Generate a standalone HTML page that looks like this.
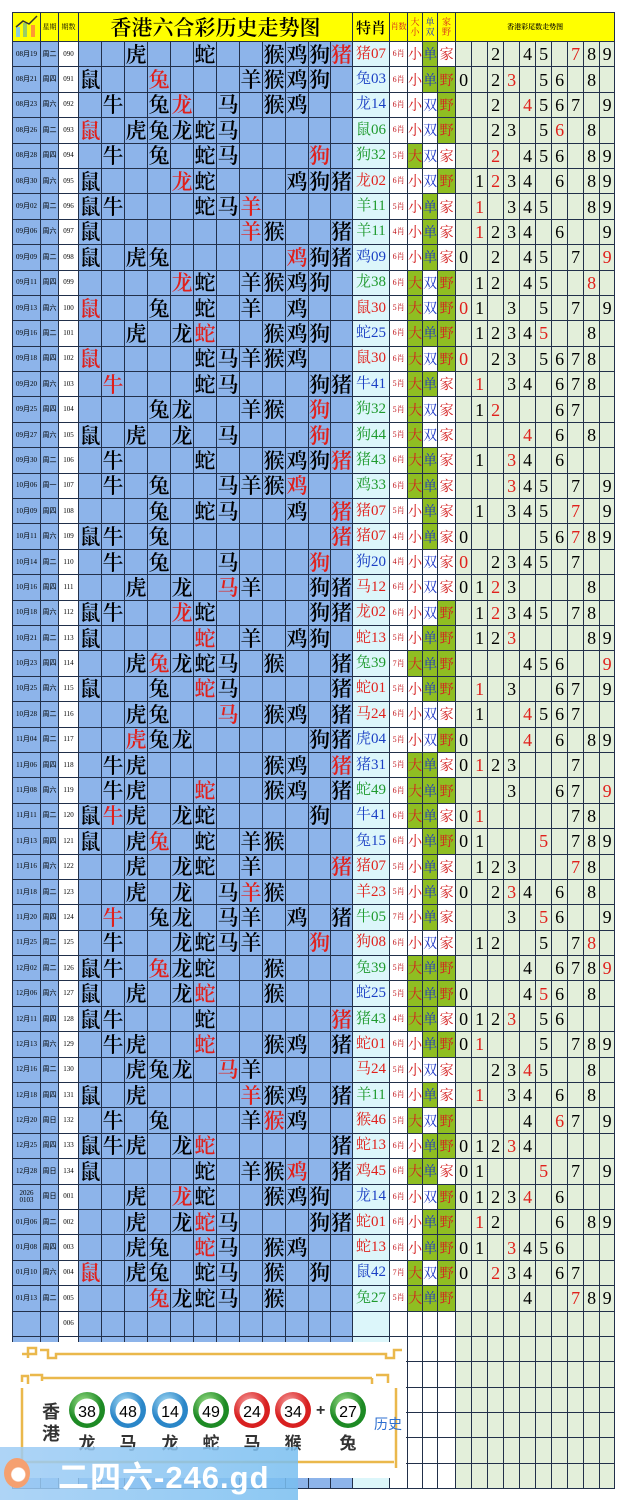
<!DOCTYPE html>
<html><head><meta charset="utf-8"><style>
body{margin:0;width:622px;height:1500px;background:#fff;position:relative;overflow:hidden;font-family:"Liberation Serif","Noto Serif CJK SC",serif}
table{position:absolute;left:12px;top:12px;border-collapse:collapse;table-layout:fixed;width:602px}
td{border:1px solid #22304a;padding:0;text-align:center;vertical-align:middle;height:24.4px;overflow:hidden;white-space:nowrap;line-height:1}
tr.h td{height:27px;background:#ffff00}
.cz{background:#8db4ea}.cd{background:#8db4ea}.cn{background:#fff}.ct{background:#dcf6fa}.cw{background:#fff}.cg{background:#e3efda}
tr td:nth-child(n+4):nth-child(-n+15){font-size:21px;font-family:"Noto Serif CJK SC",serif;font-weight:600}
tr td:nth-child(1),tr td:nth-child(2),tr td:nth-child(3){font-size:7px;font-family:"Liberation Serif","Noto Sans CJK SC",serif}
tr td:nth-child(16){font-size:15px;font-family:"Liberation Serif","Noto Serif CJK SC",serif}
tr td:nth-child(17){font-size:8px;color:#c0141a}
tr td:nth-child(18),tr td:nth-child(19),tr td:nth-child(20){font-size:14px;font-family:"Noto Serif CJK SC",serif}
tr td:nth-child(18),tr td:nth-child(20){color:#d42020}
tr td:nth-child(19){color:#1a35c8}
tr td:nth-child(n+21){font-size:18px}
.G{background:#8fbe22!important}
.r{color:#e0201b!important}.b{color:#1a3fc4}.g{color:#1f9a2e}
tr.h td{font-family:"Noto Serif CJK SC",serif;font-weight:bold}
</style></head><body>
<table>
<colgroup><col style="width:28px" class="cd"><col style="width:18px" class="cd"><col style="width:20px" class="cn">
<col style="width:23px" class="cz"><col style="width:23px" class="cz"><col style="width:23px" class="cz"><col style="width:23px" class="cz"><col style="width:23px" class="cz"><col style="width:23px" class="cz"><col style="width:23px" class="cz"><col style="width:23px" class="cz"><col style="width:23px" class="cz"><col style="width:23px" class="cz"><col style="width:22px" class="cz"><col style="width:22px" class="cz">
<col style="width:37px" class="ct"><col style="width:18px" class="cw"><col style="width:15px" class="cw"><col style="width:15px" class="cw"><col style="width:18px" class="cw">
<col style="width:16px" class="cg"><col style="width:16px" class="cg"><col style="width:16px" class="cg"><col style="width:16px" class="cg"><col style="width:16px" class="cg"><col style="width:16px" class="cg"><col style="width:16px" class="cg"><col style="width:16px" class="cg"><col style="width:16px" class="cg"><col style="width:15px" class="cg"></colgroup>
<tr class="h"><td><svg width="26" height="26" viewBox="0 0 26 26"><rect x="2" y="14" width="4" height="10" fill="#8cd"/><rect x="9" y="10" width="4" height="14" fill="#9c6"/><rect x="17" y="12" width="4" height="12" fill="#f93"/><polyline points="2,14 9,8 15,11 23,3" fill="none" stroke="#333" stroke-width="1.5"/></svg><td style="font-size:7px;font-weight:normal">星期<td style="font-size:7px;font-weight:normal">期数<td colspan="12" style="font-size:21px">香港六合彩历史走势图<td style="font-size:15px">特肖<td style="font-size:8px;color:#d42020;font-weight:normal">肖数<td style="font-size:9px;line-height:1.1;color:#d42020;font-weight:normal">大<br>小<td style="font-size:9px;line-height:1.1;color:#1a35c8;font-weight:normal">单<br>双<td style="font-size:9px;line-height:1.1;color:#d42020;font-weight:normal">家<br>野<td colspan="10" style="font-size:7px">香港彩尾数走势图
<tr><td>08月19<td>周二<td>090<td><td><td>虎<td><td><td>蛇<td><td><td>猴<td>鸡<td>狗<td class=r>猪<td class=r>猪07<td>6肖<td>小<td class=G>单<td>家<td><td><td>2<td><td>4<td>5<td><td class=r>7<td>8<td>9
<tr><td>08月21<td>周四<td>091<td>鼠<td><td><td class=r>兔<td><td><td><td>羊<td>猴<td>鸡<td>狗<td><td class=b>兔03<td>6肖<td>小<td class=G>单<td class=G>野<td>0<td><td>2<td class=r>3<td><td>5<td>6<td><td>8<td>
<tr><td>08月23<td>周六<td>092<td><td>牛<td><td>兔<td class=r>龙<td><td>马<td><td>猴<td>鸡<td><td><td class=b>龙14<td>6肖<td>小<td>双<td class=G>野<td><td><td>2<td><td class=r>4<td>5<td>6<td>7<td><td>9
<tr><td>08月26<td>周二<td>093<td class=r>鼠<td><td>虎<td>兔<td>龙<td>蛇<td>马<td><td><td><td><td><td class=g>鼠06<td>6肖<td>小<td>双<td class=G>野<td><td><td>2<td>3<td><td>5<td class=r>6<td><td>8<td>
<tr><td>08月28<td>周四<td>094<td><td>牛<td><td>兔<td><td>蛇<td>马<td><td><td><td class=r>狗<td><td class=g>狗32<td>5肖<td class=G>大<td>双<td>家<td><td><td class=r>2<td><td>4<td>5<td>6<td><td>8<td>9
<tr><td>08月30<td>周六<td>095<td>鼠<td><td><td><td class=r>龙<td>蛇<td><td><td><td>鸡<td>狗<td>猪<td class=r>龙02<td>6肖<td>小<td>双<td class=G>野<td><td>1<td class=r>2<td>3<td>4<td><td>6<td><td>8<td>9
<tr><td>09月02<td>周二<td>096<td>鼠<td>牛<td><td><td><td>蛇<td>马<td class=r>羊<td><td><td><td><td class=g>羊11<td>5肖<td>小<td class=G>单<td>家<td><td class=r>1<td><td>3<td>4<td>5<td><td><td>8<td>9
<tr><td>09月06<td>周六<td>097<td>鼠<td><td><td><td><td><td><td class=r>羊<td>猴<td><td><td>猪<td class=g>羊11<td>4肖<td>小<td class=G>单<td>家<td><td class=r>1<td>2<td>3<td>4<td><td>6<td><td><td>9
<tr><td>09月09<td>周二<td>098<td>鼠<td><td>虎<td>兔<td><td><td><td><td><td class=r>鸡<td>狗<td>猪<td class=b>鸡09<td>6肖<td>小<td class=G>单<td>家<td>0<td><td>2<td><td>4<td>5<td><td>7<td><td class=r>9
<tr><td>09月11<td>周四<td>099<td><td><td><td><td class=r>龙<td>蛇<td><td>羊<td>猴<td>鸡<td>狗<td><td class=g>龙38<td>6肖<td class=G>大<td>双<td class=G>野<td><td>1<td>2<td><td>4<td>5<td><td><td class=r>8<td>
<tr><td>09月13<td>周六<td>100<td class=r>鼠<td><td><td>兔<td><td>蛇<td><td>羊<td><td>鸡<td><td><td class=r>鼠30<td>5肖<td class=G>大<td>双<td class=G>野<td class=r>0<td>1<td><td>3<td><td>5<td><td>7<td><td>9
<tr><td>09月16<td>周二<td>101<td><td><td>虎<td><td>龙<td class=r>蛇<td><td><td>猴<td>鸡<td>狗<td><td class=b>蛇25<td>6肖<td class=G>大<td class=G>单<td class=G>野<td><td>1<td>2<td>3<td>4<td class=r>5<td><td><td>8<td>
<tr><td>09月18<td>周四<td>102<td class=r>鼠<td><td><td><td><td>蛇<td>马<td>羊<td>猴<td>鸡<td><td><td class=r>鼠30<td>6肖<td class=G>大<td>双<td class=G>野<td class=r>0<td><td>2<td>3<td><td>5<td>6<td>7<td>8<td>
<tr><td>09月20<td>周六<td>103<td><td class=r>牛<td><td><td><td>蛇<td>马<td><td><td><td>狗<td>猪<td class=b>牛41<td>5肖<td class=G>大<td class=G>单<td>家<td><td class=r>1<td><td>3<td>4<td><td>6<td>7<td>8<td>
<tr><td>09月25<td>周四<td>104<td><td><td><td>兔<td>龙<td><td><td>羊<td>猴<td><td class=r>狗<td><td class=g>狗32<td>5肖<td class=G>大<td>双<td>家<td><td>1<td class=r>2<td><td><td><td>6<td>7<td><td>
<tr><td>09月27<td>周六<td>105<td>鼠<td><td>虎<td><td>龙<td><td>马<td><td><td><td class=r>狗<td><td class=g>狗44<td>5肖<td class=G>大<td>双<td>家<td><td><td><td><td class=r>4<td><td>6<td><td>8<td>
<tr><td>09月30<td>周二<td>106<td><td>牛<td><td><td><td>蛇<td><td><td>猴<td>鸡<td>狗<td class=r>猪<td class=g>猪43<td>6肖<td class=G>大<td class=G>单<td>家<td><td>1<td><td class=r>3<td>4<td><td>6<td><td><td>
<tr><td>10月06<td>周一<td>107<td><td>牛<td><td>兔<td><td><td>马<td>羊<td>猴<td class=r>鸡<td><td><td class=g>鸡33<td>6肖<td class=G>大<td class=G>单<td>家<td><td><td><td class=r>3<td>4<td>5<td><td>7<td><td>9
<tr><td>10月09<td>周四<td>108<td><td><td><td>兔<td><td>蛇<td>马<td><td><td>鸡<td><td class=r>猪<td class=r>猪07<td>5肖<td>小<td class=G>单<td>家<td><td>1<td><td>3<td>4<td>5<td><td class=r>7<td><td>9
<tr><td>10月11<td>周六<td>109<td>鼠<td>牛<td><td>兔<td><td><td><td><td><td><td><td class=r>猪<td class=r>猪07<td>4肖<td>小<td class=G>单<td>家<td>0<td><td><td><td><td>5<td>6<td class=r>7<td>8<td>9
<tr><td>10月14<td>周二<td>110<td><td>牛<td><td>兔<td><td><td>马<td><td><td><td class=r>狗<td><td class=b>狗20<td>4肖<td>小<td>双<td>家<td class=r>0<td><td>2<td>3<td>4<td>5<td><td>7<td><td>
<tr><td>10月16<td>周四<td>111<td><td><td>虎<td><td>龙<td><td class=r>马<td>羊<td><td><td>狗<td>猪<td class=r>马12<td>6肖<td>小<td>双<td>家<td>0<td>1<td class=r>2<td>3<td><td><td><td><td>8<td>
<tr><td>10月18<td>周六<td>112<td>鼠<td>牛<td><td><td class=r>龙<td>蛇<td><td><td><td><td>狗<td>猪<td class=r>龙02<td>6肖<td>小<td>双<td class=G>野<td><td>1<td class=r>2<td>3<td>4<td>5<td><td>7<td>8<td>
<tr><td>10月21<td>周二<td>113<td>鼠<td><td><td><td><td class=r>蛇<td><td>羊<td><td>鸡<td>狗<td><td class=r>蛇13<td>5肖<td>小<td class=G>单<td class=G>野<td><td>1<td>2<td class=r>3<td><td><td><td><td>8<td>9
<tr><td>10月23<td>周四<td>114<td><td><td>虎<td class=r>兔<td>龙<td>蛇<td>马<td><td>猴<td><td><td>猪<td class=g>兔39<td>7肖<td class=G>大<td class=G>单<td class=G>野<td><td><td><td><td>4<td>5<td>6<td><td><td class=r>9
<tr><td>10月25<td>周六<td>115<td>鼠<td><td><td>兔<td><td class=r>蛇<td>马<td><td><td><td><td>猪<td class=r>蛇01<td>5肖<td>小<td class=G>单<td class=G>野<td><td class=r>1<td><td>3<td><td><td>6<td>7<td><td>9
<tr><td>10月28<td>周二<td>116<td><td><td>虎<td>兔<td><td><td class=r>马<td><td>猴<td>鸡<td><td>猪<td class=r>马24<td>6肖<td>小<td>双<td>家<td><td>1<td><td><td class=r>4<td>5<td>6<td>7<td><td>
<tr><td>11月04<td>周二<td>117<td><td><td class=r>虎<td>兔<td>龙<td><td><td><td><td><td>狗<td>猪<td class=b>虎04<td>5肖<td>小<td>双<td class=G>野<td>0<td><td><td><td class=r>4<td><td>6<td><td>8<td>9
<tr><td>11月06<td>周四<td>118<td><td>牛<td>虎<td><td><td><td><td><td>猴<td>鸡<td><td class=r>猪<td class=b>猪31<td>5肖<td class=G>大<td class=G>单<td>家<td>0<td class=r>1<td>2<td>3<td><td><td><td>7<td><td>
<tr><td>11月08<td>周六<td>119<td><td>牛<td>虎<td><td><td class=r>蛇<td><td><td>猴<td>鸡<td><td>猪<td class=g>蛇49<td>6肖<td class=G>大<td class=G>单<td class=G>野<td><td><td><td>3<td><td><td>6<td>7<td><td class=r>9
<tr><td>11月11<td>周二<td>120<td>鼠<td class=r>牛<td>虎<td><td>龙<td>蛇<td><td><td><td><td>狗<td><td class=b>牛41<td>6肖<td class=G>大<td class=G>单<td>家<td>0<td class=r>1<td><td><td><td><td><td>7<td>8<td>
<tr><td>11月13<td>周四<td>121<td>鼠<td><td>虎<td class=r>兔<td><td>蛇<td><td>羊<td>猴<td><td><td><td class=b>兔15<td>6肖<td>小<td class=G>单<td class=G>野<td>0<td>1<td><td><td><td class=r>5<td><td>7<td>8<td>9
<tr><td>11月16<td>周六<td>122<td><td><td>虎<td><td>龙<td>蛇<td><td>羊<td><td><td><td class=r>猪<td class=r>猪07<td>5肖<td>小<td class=G>单<td>家<td><td>1<td>2<td>3<td><td><td><td class=r>7<td>8<td>
<tr><td>11月18<td>周二<td>123<td><td><td>虎<td><td>龙<td><td>马<td class=r>羊<td>猴<td><td><td><td class=r>羊23<td>5肖<td>小<td class=G>单<td>家<td>0<td><td>2<td class=r>3<td>4<td><td>6<td><td>8<td>
<tr><td>11月20<td>周四<td>124<td><td class=r>牛<td><td>兔<td>龙<td><td>马<td>羊<td><td>鸡<td><td>猪<td class=g>牛05<td>7肖<td>小<td class=G>单<td>家<td><td><td><td>3<td><td class=r>5<td>6<td><td><td>9
<tr><td>11月25<td>周二<td>125<td><td>牛<td><td><td>龙<td>蛇<td>马<td>羊<td><td><td class=r>狗<td><td class=r>狗08<td>6肖<td>小<td>双<td>家<td><td>1<td>2<td><td><td>5<td><td>7<td class=r>8<td>
<tr><td>12月02<td>周二<td>126<td>鼠<td>牛<td><td class=r>兔<td>龙<td>蛇<td><td><td>猴<td><td><td><td class=g>兔39<td>5肖<td class=G>大<td class=G>单<td class=G>野<td><td><td><td><td>4<td><td>6<td>7<td>8<td class=r>9
<tr><td>12月06<td>周六<td>127<td>鼠<td><td>虎<td><td>龙<td class=r>蛇<td><td><td>猴<td><td><td><td class=b>蛇25<td>5肖<td class=G>大<td class=G>单<td class=G>野<td>0<td><td><td><td>4<td class=r>5<td>6<td><td>8<td>
<tr><td>12月11<td>周四<td>128<td>鼠<td>牛<td><td><td><td>蛇<td><td><td><td><td><td class=r>猪<td class=g>猪43<td>4肖<td class=G>大<td class=G>单<td>家<td>0<td>1<td>2<td class=r>3<td><td>5<td>6<td><td><td>
<tr><td>12月13<td>周六<td>129<td><td>牛<td>虎<td><td><td class=r>蛇<td><td><td>猴<td>鸡<td><td>猪<td class=r>蛇01<td>6肖<td>小<td class=G>单<td class=G>野<td>0<td class=r>1<td><td><td><td>5<td><td>7<td>8<td>9
<tr><td>12月16<td>周二<td>130<td><td><td>虎<td>兔<td>龙<td><td class=r>马<td>羊<td><td><td><td><td class=r>马24<td>5肖<td>小<td>双<td>家<td><td><td>2<td>3<td class=r>4<td>5<td><td><td>8<td>
<tr><td>12月18<td>周四<td>131<td>鼠<td><td>虎<td><td><td><td><td class=r>羊<td>猴<td>鸡<td><td>猪<td class=g>羊11<td>6肖<td>小<td class=G>单<td>家<td><td class=r>1<td><td>3<td>4<td><td>6<td><td>8<td>
<tr><td>12月20<td>周日<td>132<td><td>牛<td><td>兔<td><td><td><td>羊<td class=r>猴<td>鸡<td><td><td class=r>猴46<td>5肖<td class=G>大<td>双<td class=G>野<td><td><td><td><td>4<td><td class=r>6<td>7<td><td>9
<tr><td>12月25<td>周四<td>133<td>鼠<td>牛<td>虎<td><td>龙<td class=r>蛇<td><td><td><td><td><td>猪<td class=r>蛇13<td>6肖<td>小<td class=G>单<td class=G>野<td>0<td>1<td>2<td class=r>3<td>4<td><td><td><td><td>
<tr><td>12月28<td>周日<td>134<td>鼠<td><td><td><td><td>蛇<td><td>羊<td>猴<td class=r>鸡<td><td>猪<td class=r>鸡45<td>6肖<td class=G>大<td class=G>单<td>家<td>0<td>1<td><td><td><td class=r>5<td><td>7<td><td>9
<tr><td>2026<br>0103<td>周日<td>001<td><td><td>虎<td><td class=r>龙<td>蛇<td><td><td>猴<td>鸡<td>狗<td><td class=b>龙14<td>6肖<td>小<td>双<td class=G>野<td>0<td>1<td>2<td>3<td class=r>4<td><td>6<td><td><td>
<tr><td>01月06<td>周二<td>002<td><td><td>虎<td><td>龙<td class=r>蛇<td>马<td><td><td><td>狗<td>猪<td class=r>蛇01<td>6肖<td>小<td class=G>单<td class=G>野<td><td class=r>1<td>2<td><td><td><td>6<td><td>8<td>9
<tr><td>01月08<td>周四<td>003<td><td><td>虎<td>兔<td><td class=r>蛇<td>马<td><td>猴<td>鸡<td><td><td class=r>蛇13<td>6肖<td>小<td class=G>单<td class=G>野<td>0<td>1<td><td class=r>3<td>4<td>5<td>6<td><td><td>
<tr><td>01月10<td>周六<td>004<td class=r>鼠<td><td>虎<td>兔<td><td>蛇<td>马<td><td>猴<td><td>狗<td><td class=b>鼠42<td>7肖<td class=G>大<td>双<td class=G>野<td>0<td><td class=r>2<td>3<td>4<td><td>6<td>7<td><td>
<tr><td>01月13<td>周二<td>005<td><td><td><td class=r>兔<td>龙<td>蛇<td>马<td><td>猴<td><td><td><td class=g>兔27<td>5肖<td class=G>大<td class=G>单<td class=G>野<td><td><td><td><td>4<td><td><td class=r>7<td>8<td>9
<tr><td><td><td>006<td><td><td><td><td><td><td><td><td><td><td><td><td><td><td><td><td><td><td><td><td><td><td><td><td><td><td>
<tr><td><td><td><td><td><td><td><td><td><td><td><td><td><td><td><td><td><td><td><td><td><td><td><td><td><td><td><td><td><td>
<tr><td><td><td><td><td><td><td><td><td><td><td><td><td><td><td><td><td><td><td><td><td><td><td><td><td><td><td><td><td><td>
<tr><td><td><td><td><td><td><td><td><td><td><td><td><td><td><td><td><td><td><td><td><td><td><td><td><td><td><td><td><td><td>
<tr><td><td><td><td><td><td><td><td><td><td><td><td><td><td><td><td><td><td><td><td><td><td><td><td><td><td><td><td><td><td>
<tr><td><td><td><td><td><td><td><td><td><td><td><td><td><td><td><td><td><td><td><td><td><td><td><td><td><td><td><td><td><td>
<tr><td><td><td><td><td><td><td><td><td><td><td><td><td><td><td><td><td><td><td><td><td><td><td><td><td><td><td><td><td><td>
</table>
<div style="position:absolute;left:0;top:1490px;width:622px;height:10px;background:#fff"></div>
<div style="position:absolute;left:12px;top:1342px;width:394px;height:136px;background:#fff">
<svg width="394" height="136" style="position:absolute;left:0;top:0" font-family="Liberation Sans, sans-serif">
<g fill="none" stroke="#eab84c" stroke-width="2.5">
<path d="M10,12 h14 v-6 h-8 v10 M28,8 h8 v8 h8 v-4 h330 v4 h8 v-8 h8"/>
<path d="M10,40 v-6 h6 v8 M18,33 h12 v6 M30,36 h330 M360,36 v6 M364,33 h12 v8 M10,46 v80 M384,46 v80 M12,120 h370"/>
</g>
<defs>
<radialGradient id="gg" cx="40%" cy="30%"><stop offset="0" stop-color="#9de08a"/><stop offset="1" stop-color="#1d8a24"/></radialGradient>
<radialGradient id="bb" cx="40%" cy="30%"><stop offset="0" stop-color="#a8dcf5"/><stop offset="1" stop-color="#2a86c8"/></radialGradient>
<radialGradient id="rr" cx="40%" cy="30%"><stop offset="0" stop-color="#f7a0a0"/><stop offset="1" stop-color="#d82020"/></radialGradient>
</defs>
<text x="30" y="76" font-family="Noto Sans CJK SC, sans-serif" font-weight="bold" font-size="18" fill="#333">香</text>
<text x="30" y="98" font-family="Noto Sans CJK SC, sans-serif" font-weight="bold" font-size="18" fill="#333">港</text>
<text x="304" y="73" font-weight="bold" font-size="16" fill="#333">+</text>
<text x="362" y="87" font-family="Noto Sans CJK SC, sans-serif" font-size="14" fill="#2d6fd0">历史</text>
<g text-anchor="middle">
<circle cx="75" cy="68" r="18" fill="url(#gg)"/><circle cx="75" cy="69" r="12.5" fill="#fff"/><text x="75" y="75" font-size="16">38</text>
<circle cx="116" cy="68" r="18" fill="url(#bb)"/><circle cx="116" cy="69" r="12.5" fill="#fff"/><text x="116" y="75" font-size="16">48</text>
<circle cx="158" cy="68" r="18" fill="url(#bb)"/><circle cx="158" cy="69" r="12.5" fill="#fff"/><text x="158" y="75" font-size="16">14</text>
<circle cx="199" cy="68" r="18" fill="url(#gg)"/><circle cx="199" cy="69" r="12.5" fill="#fff"/><text x="199" y="75" font-size="16">49</text>
<circle cx="240" cy="68" r="18" fill="url(#rr)"/><circle cx="240" cy="69" r="12.5" fill="#fff"/><text x="240" y="75" font-size="16">24</text>
<circle cx="281" cy="68" r="18" fill="url(#rr)"/><circle cx="281" cy="69" r="12.5" fill="#fff"/><text x="281" y="75" font-size="16">34</text>
<circle cx="336" cy="68" r="18" fill="url(#gg)"/><circle cx="336" cy="69" r="12.5" fill="#fff"/><text x="336" y="75" font-size="16">27</text>
</g>
<g text-anchor="middle" font-family="Noto Sans CJK SC, sans-serif" font-weight="bold" font-size="17" fill="#333">
<text x="75" y="107">龙</text><text x="116" y="107">马</text><text x="158" y="107">龙</text><text x="199" y="107">蛇</text><text x="240" y="107">马</text><text x="281" y="107">猴</text><text x="336" y="107">兔</text>
</g>
</svg>
</div>
<div style="position:absolute;left:0;top:1447px;width:298px;height:53px;background:linear-gradient(90deg,rgba(160,205,245,0.85),rgba(120,190,240,0.85))"></div>
<div style="position:absolute;left:4px;top:1458px;width:26px;height:30px;border-radius:50%;background:radial-gradient(circle at 55% 55%,#fff 0 30%,#f5a070 35% 100%)"></div>
<div style="position:absolute;left:58px;top:1452px;font:bold 31px 'Liberation Sans','Noto Sans CJK SC',sans-serif;color:#fff;letter-spacing:1px">二四六-246.gd</div>
</body></html>
